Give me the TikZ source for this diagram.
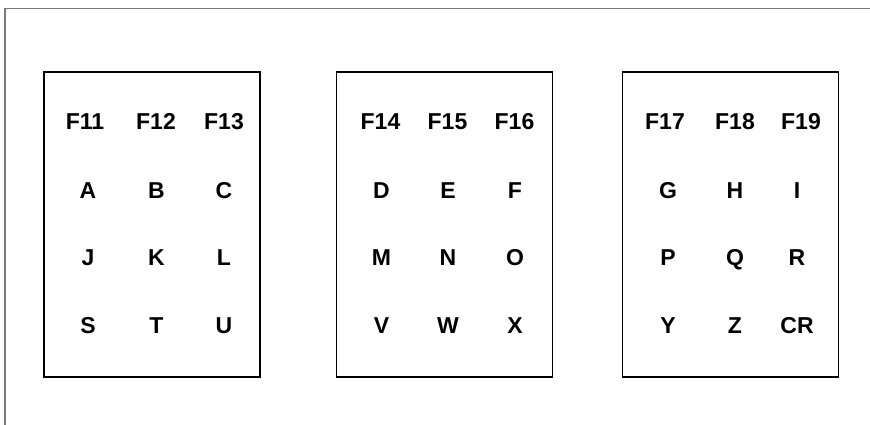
\documentclass[tikz,border=0pt]{standalone}
\usepackage{fontspec}
\setmainfont{Liberation Sans}
\begin{document}
\begin{tikzpicture}[x=1pt,y=-1pt,
  frame/.style={draw=black!52,line width=1.3pt},
  panel/.style={draw=black,line width=1.1pt},
  key/.style={inner sep=0pt,anchor=base,font=\fontsize{23}{23}\selectfont\bfseries}]
\useasboundingbox (0,0) rectangle (870,425);
% outer frame
\coordinate (tr) at (870,8.5);
\coordinate (tl) at (5,8.5);
\coordinate (bl) at (5,425);
\draw[frame] (tr) -- (tl) -- (bl);
% panels
\node[panel,inner sep=0pt,minimum width=216pt,minimum height=305pt] (p1) at (152,224.5) {};
\node[panel,inner sep=0pt,minimum width=215.5pt,minimum height=305pt] (p2) at (444.5,224.5) {};
\node[panel,inner sep=0pt,minimum width=216pt,minimum height=305pt] (p3) at (730.3,224.5) {};
% row baselines
\def\ra{130}\def\rb{198}\def\rc{265.5}\def\rd{333}
% panel 1
\node[key] (f11) at (85,\ra) {F11};
\node[key] (f12) at (156,\ra) {F12};
\node[key] (f13) at (224,\ra) {F13};
\node[key] (ka) at (88,\rb) {A};
\node[key] (kb) at (156.5,\rb) {B};
\node[key] (kc) at (224,\rb) {C};
\node[key] (kj) at (88,\rc) {J};
\node[key] (kk) at (156.5,\rc) {K};
\node[key] (kl) at (224,\rc) {L};
\node[key] (ks) at (88,\rd) {S};
\node[key] (kt) at (156.5,\rd) {T};
\node[key] (ku) at (224,\rd) {U};
% panel 2
\node[key] (f14) at (380.5,\ra) {F14};
\node[key] (f15) at (447.5,\ra) {F15};
\node[key] (f16) at (514.5,\ra) {F16};
\node[key] (kd) at (381.5,\rb) {D};
\node[key] (ke) at (448,\rb) {E};
\node[key] (kf) at (515,\rb) {F};
\node[key] (km) at (381.5,\rc) {M};
\node[key] (kn) at (448,\rc) {N};
\node[key] (ko) at (515,\rc) {O};
\node[key] (kv) at (381.5,\rd) {V};
\node[key] (kw) at (448,\rd) {W};
\node[key] (kx) at (515,\rd) {X};
% panel 3
\node[key] (f17) at (665,\ra) {F17};
\node[key] (f18) at (735,\ra) {F18};
\node[key] (f19) at (801,\ra) {F19};
\node[key] (kg) at (668,\rb) {G};
\node[key] (kh) at (735,\rb) {H};
\node[key] (ki) at (797,\rb) {I};
\node[key] (kp) at (668,\rc) {P};
\node[key] (kq) at (735,\rc) {Q};
\node[key] (kr) at (797,\rc) {R};
\node[key] (ky) at (668,\rd) {Y};
\node[key] (kz) at (735,\rd) {Z};
\node[key] (kcr) at (797,\rd) {CR};
\end{tikzpicture}
\end{document}
